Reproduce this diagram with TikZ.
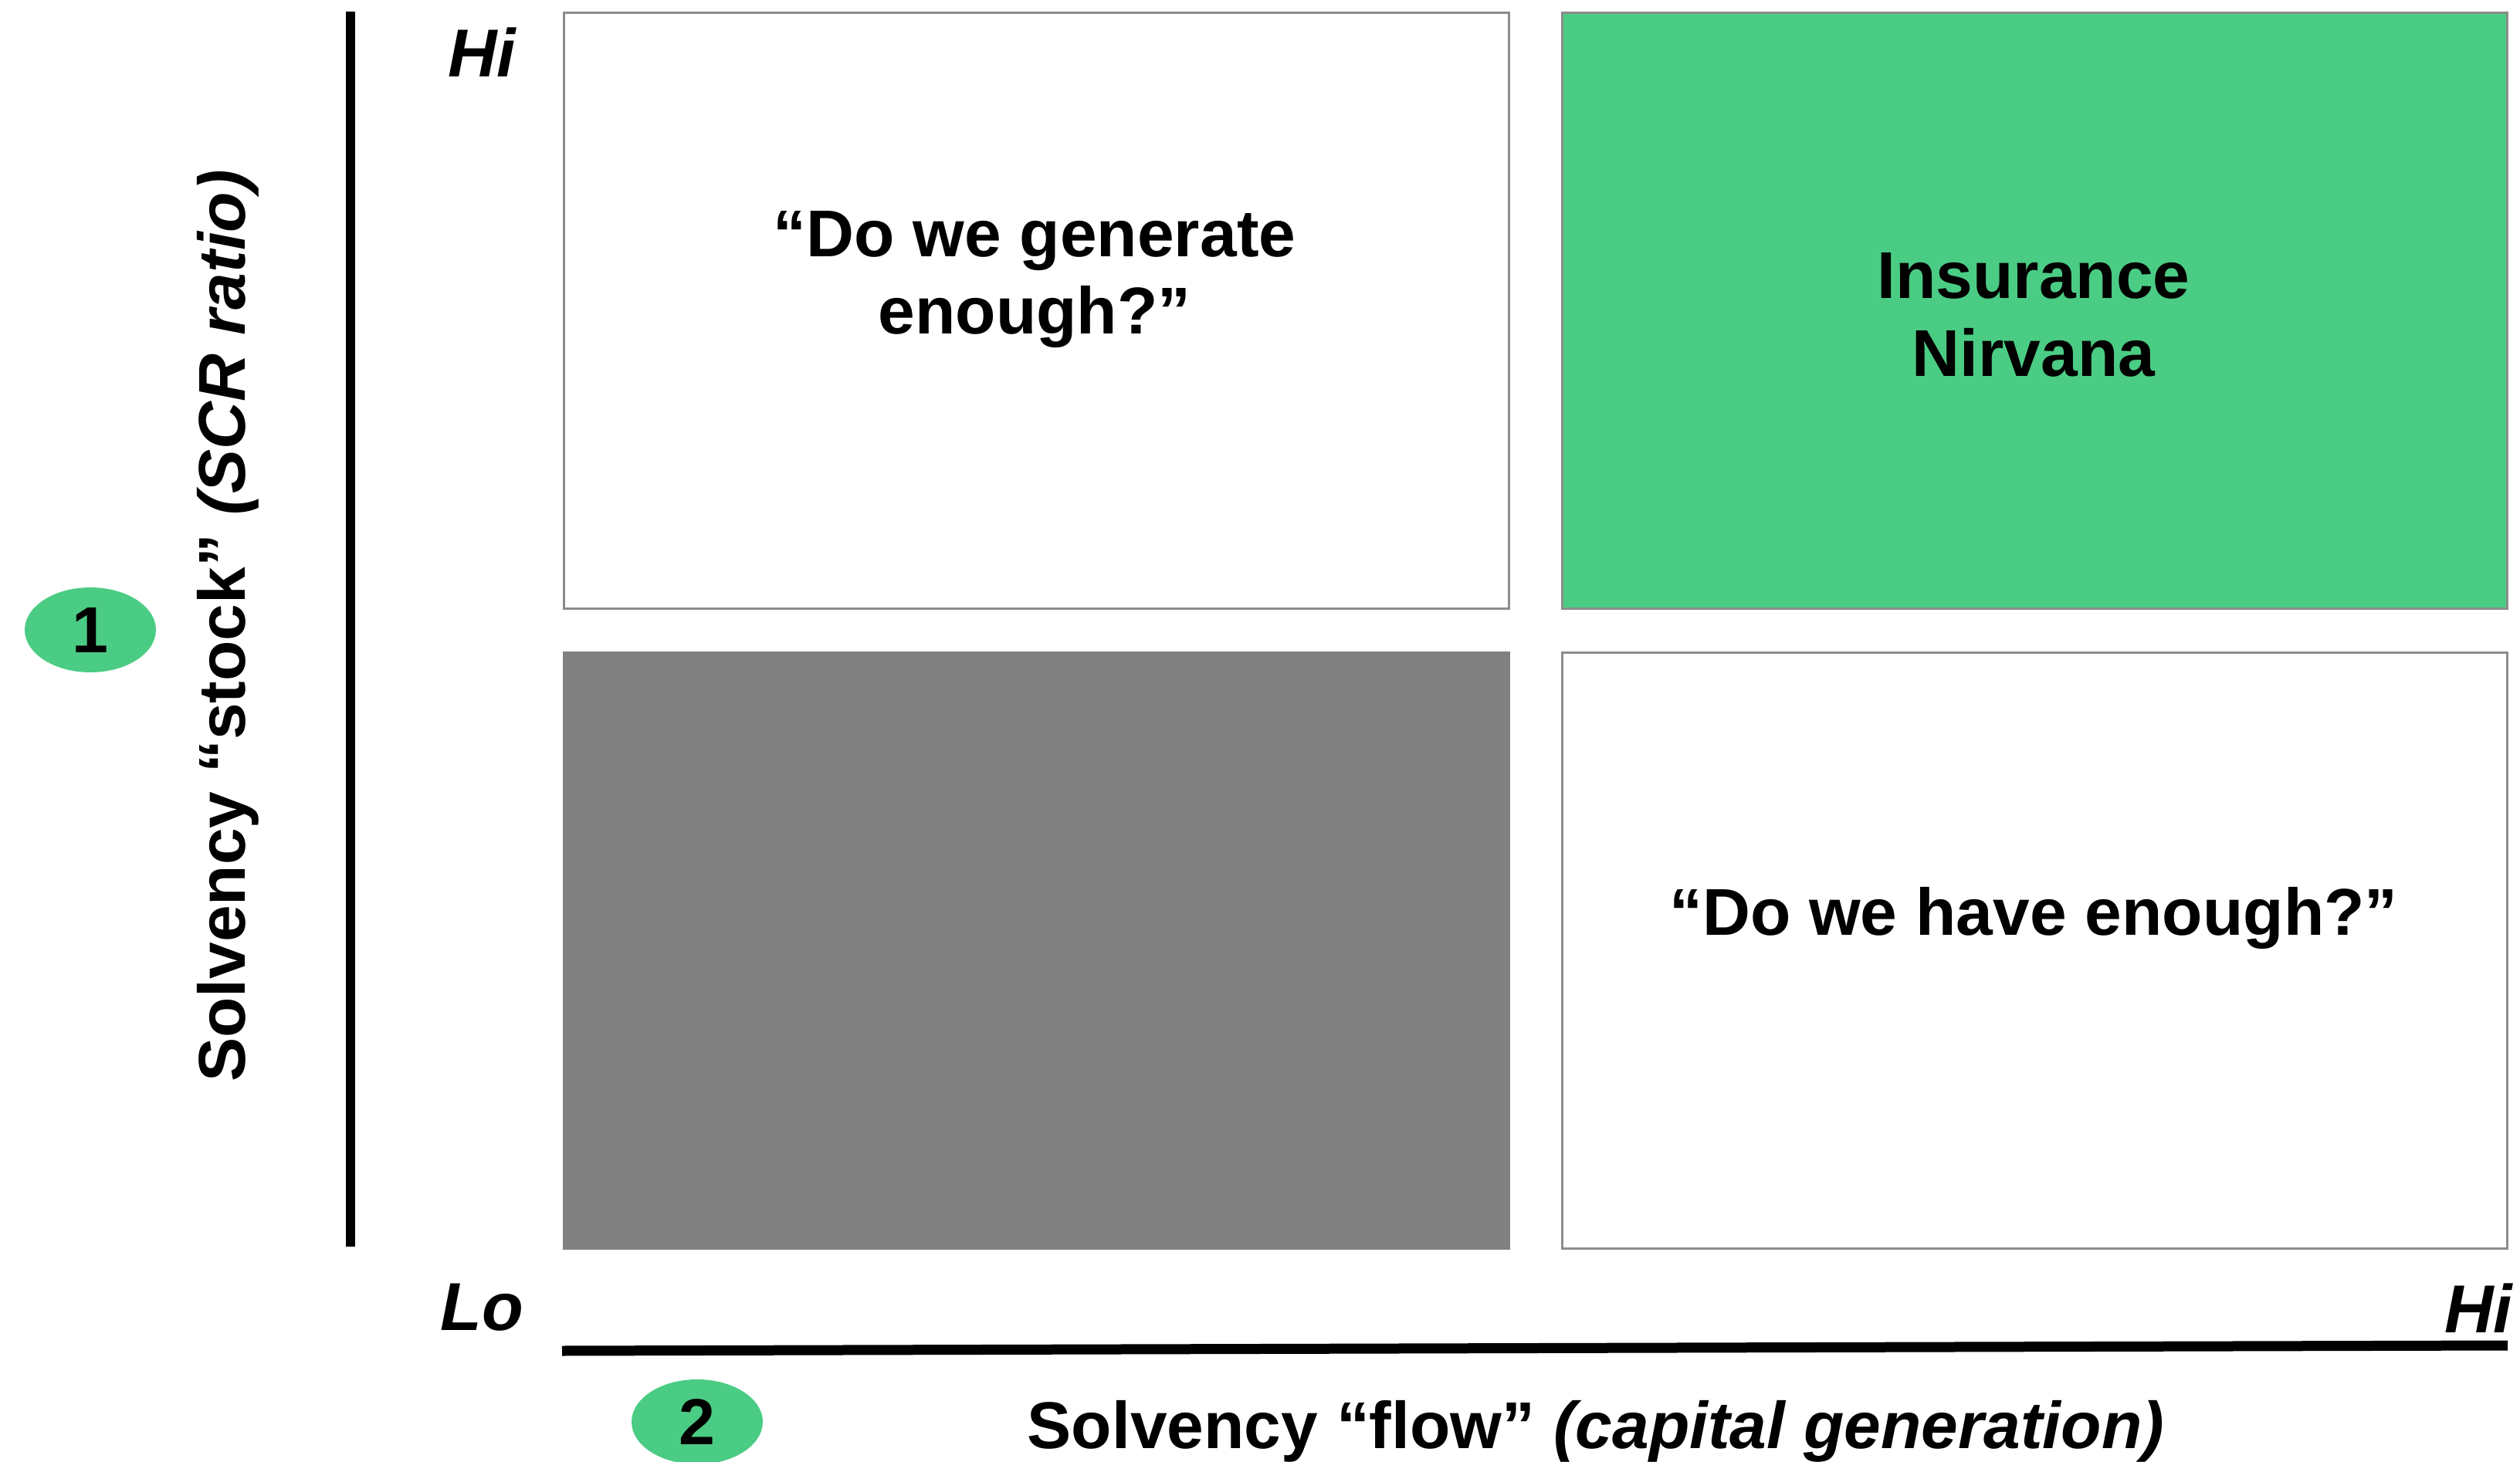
\documentclass[tikz,border=0pt]{standalone}
\usepackage{fontspec}
\setmainfont{Liberation Sans}
\usepackage{xcolor}
\usepackage{tikz}
\usetikzlibrary{positioning,shapes.geometric}

\definecolor{nirvana}{RGB}{75,204,132}
\definecolor{boxgray}{RGB}{128,128,128}
\definecolor{edgegray}{RGB}{140,140,140}

\begin{document}
\begin{tikzpicture}[
    quad/.style={draw=edgegray, line width=0.9pt, minimum width=12.24cm, minimum height=7.72cm, inner sep=0pt, anchor=north west},
    lbl/.style={font=\fontsize{24.4}{28.5}\selectfont\bfseries, align=center},
    hilo/.style={font=\fontsize{25}{30}\selectfont\bfseries\itshape},
    badge/.style={ellipse, fill=nirvana, minimum width=1.7cm, minimum height=1.1cm, inner sep=0pt, font=\fontsize{24}{28}\selectfont\bfseries}
]
    % Canvas
    \useasboundingbox (0,0) rectangle (32.64,-18.94);

    % Draw the four quadrants
    \node[quad] (topleft) at (7.29,-0.15) {};
    \node[quad, fill=nirvana] (topright) at (20.22,-0.15) {};
    \node[quad, fill=boxgray, draw=boxgray] (botleft) at (7.29,-8.44) {};
    \node[quad] (botright) at (20.22,-8.44) {};

    % Quadrant texts
    \node[lbl] (generate) at (13.40,-3.62) {“Do we generate\\enough?”};
    \node[lbl] (insnirvana) at (26.34,-4.08) {Insurance\\Nirvana};
    \node[lbl] (haveenough) at (26.34,-11.90) {“Do we have enough?”};

    % Axes
    \coordinate (ytop) at (4.54,-0.15);
    \coordinate (ybot) at (4.54,-16.15);
    \coordinate (xleft) at (7.28,-17.50);
    \coordinate (xright) at (32.48,-17.43);
    \draw[line width=0.12cm] (ytop) -- (ybot);
    \draw[line width=0.13cm] (xleft) -- (xright);

    % Axis ends
    \node[hilo] (yhi) at (6.24,-0.68) {Hi};
    \node[hilo] (xlo) at (6.24,-16.94) {Lo};
    \node[hilo] (xhi) at (32.10,-16.95) {Hi};

    % Axis labels
    \node[lbl, rotate=90] (ylabel) at (2.95,-8.11) {Solvency “stock” \textit{(SCR ratio)}};
    \node[lbl] (xlabel) at (20.67,-18.54) {Solvency “flow” \textit{(capital generation)}};

    % Numbered badges
    \node[badge] (one) at (1.17,-8.16) {1};
    \node[badge] (two) at (9.03,-18.42) {2};
\end{tikzpicture}
\end{document}
